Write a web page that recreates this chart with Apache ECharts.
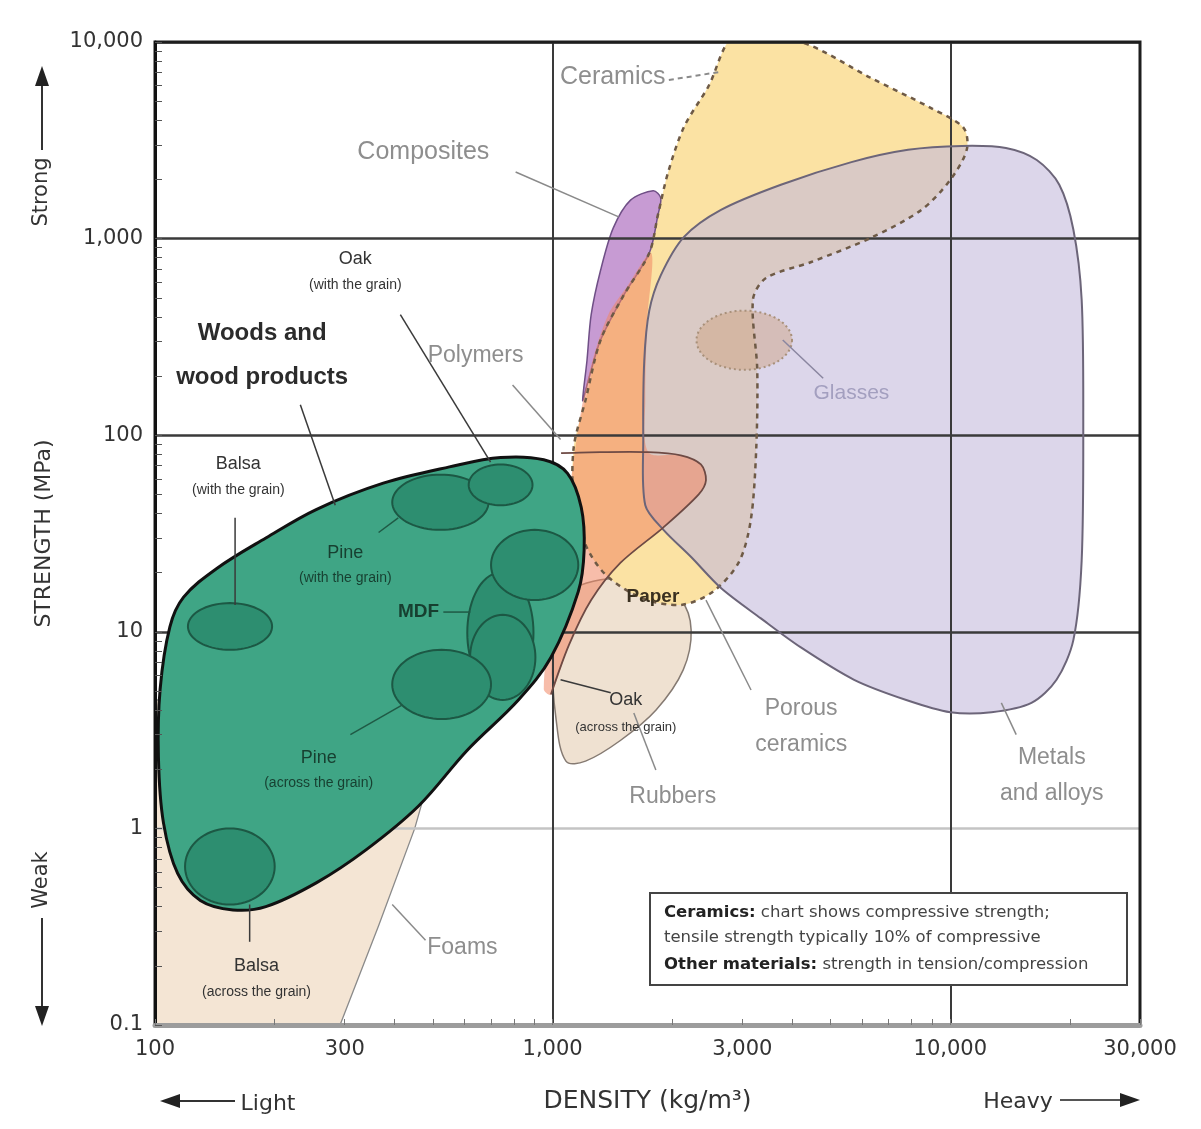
<!DOCTYPE html>
<html>
<head>
<meta charset="utf-8">
<script src="https://cdn.jsdelivr.net/npm/echarts@6/dist/echarts.min.js"></script>
<style>
html,body{margin:0;padding:0;background:#ffffff;}
#chart{width:1201px;height:1129px;}
</style>
</head>
<body>
<div id="chart"></div>
<script>
// ---------------- DATA (density kg/m3, strength MPa) ----------------
const xTickValues = [100, 300, 1000, 3000, 10000, 30000];
const yTickValues = [0.1, 1, 10, 100, 1000, 10000];

const foamsOutline = [[100,4.5],[100,0.1],[292,0.1],[365,0.32],[450,1.0],[520,2.8],[173,4.5]];
const rubbersOutline = [[1050,14.5],[1320,18.4],[1770,17.3],[2100,14.5],[2230,10.2],[2130,6.4],[1820,4.0],[1480,2.8],[1210,2.2],[1080,2.2],[1020,3.6],[1000,7.2]];
const ceramicsOutline = [[2890,11000],[4220,10000],[6320,6560],[8950,4610],[10800,3660],[11000,2830],[10000,1990],[8460,1400],[6320,1010],[4470,760],[3440,630],[3190,490],[3270,215],[3250,84],[3150,37],[2940,22.6],[2530,16],[2100,13.7],[1670,14.9],[1360,19.5],[1210,27.7],[1130,47],[1130,87],[1210,151],[1320,305],[1510,516],[1750,845],[1840,1320],[1950,2160],[2140,3700],[2460,5900]];
const metalsOutline = [[1710,44],[1690,95],[1700,240],[1750,430],[1870,650],[2140,1020],[2650,1400],[3750,1880],[5640,2450],[7830,2830],[10700,2960],[13800,2890],[16500,2510],[18800,1880],[20400,1110],[21400,490],[21600,120],[21400,23],[20400,9.1],[18500,5.7],[16000,4.35],[12700,3.9],[10000,3.9],[7750,4.5],[5730,5.7],[4220,8.3],[3340,11.7],[2650,16.7],[2230,24],[1900,33]];
const compositesOutline = [[1790,1750],[1570,1570],[1420,1130],[1320,690],[1250,410],[1220,240],[1190,150],[1230,190],[1320,305],[1510,516],[1750,845],[1840,1320],[1870,1610]];
const polymersOutline = [[1770,845],[1730,386],[1710,151],[1740,82],[2100,79],[2360,71],[2430,59],[2330,50],[1900,34],[1480,22.4],[1250,14.5],[1100,8.6],[990,4.8],[950,5.1],[990,11.5],[1060,29],[1120,66],[1180,134],[1260,240],[1380,410],[1530,560]];
const polymersEdge = [[1050,81],[1320,82],[1740,82],[2100,79],[2360,71],[2430,59],[2330,50],[1900,34],[1480,22.4],[1250,14.5],[1100,8.6],[990,4.8]];
const glassesDensityRange = [2300, 4000];
const glassesStrengthRange = [215, 430];
const woodsOutline = [[950,75],[1090,64],[1180,43],[1200,26],[1160,16],[990,7.4],[820,4.5],[610,2.5],[460,1.3],[340,0.78],[255,0.53],[190,0.40],[157,0.385],[130,0.43],[114,0.59],[105,1.07],[102,2.3],[103,5.1],[109,10.6],[118,15],[143,21],[190,30],[255,42],[375,57],[550,69],[740,77]];

const woodNames = ['MDF','Balsa (with the grain)','Balsa (across the grain)','Pine (with the grain)','Oak (with the grain)','Hardwood (with the grain)','Hardwood (across)','Pine (across the grain)'];
const woodDensityRanges = [[610,895],[121,197],[119,200],[395,690],[615,890],[700,1160],[620,905],[395,700]];
const woodStrengthRanges = [[4.9,20],[8.1,14],[0.41,1.0],[33,63],[44,71],[14.5,33],[4.5,12.2],[3.6,8.1]];

const labelTexts = ['Woods and\nwood products','Oak\n(with the grain)','Polymers','Composites','Ceramics','Glasses','Balsa\n(with the grain)','Pine\n(with the grain)','MDF','Pine\n(across the grain)','Balsa\n(across the grain)','Foams','Paper','Oak\n(across the grain)','Rubbers','Porous\nceramics','Metals\nand alloys'];
const labelAnchors = [[186,256],[319,700],[640,253],[473,2760],[1416,6640],[5640,164],[162,63.5],[301,22.4],[460,12.6],[258,2.03],[180,0.178],[593,0.247],[1787,15],[1528,4.0],[2005,1.45],[4217,3.28],[18000,1.85]];
const labelKinds = ['woods','note','gray','grayBig','grayBig','glass','note','green','greenBold','green','note','gray','bold','noteSmall','gray','gray','gray'];

const leaderLines = [
  [[232,143],[284,44]], [[414,410],[698,73]], [[793,180],[1047,95]], [[807,2180],[1466,1290]],
  [[1960,6410],[2620,7030]], [[3790,305],[4790,195]], [[159,38],[159,13.7]], [[365,32],[409,38]],
  [[531,12.6],[621,12.6]], [[310,3.0],[419,4.25]], [[173,0.41],[173,0.265]], [[479,0.27],[395,0.41]],
  [[1047,5.7],[1400,4.9]], [[1600,3.86],[1818,1.98]], [[2430,14.5],[3155,5.06]], [[13440,4.35],[14650,3.0]]
];
const leaderKinds = ['dark','dark','gray','gray','dash','glass','dark','green','green','green','dark','gray','dark','gray','gray','gray'];

// ---------------- STYLES ----------------
const L = Math.log10;
const FF = '"Liberation Sans", Arial, sans-serif';
const AF = '"DejaVu Sans", sans-serif';
const labelStyles = {
  woods: {t:{fontSize:24,fontWeight:'bold',fill:'#2b2b2b',fontFamily:FF,lineHeight:44}},
  note: {t:{fontSize:18,fill:'#333',fontFamily:FF,lineHeight:32}, s:{fontSize:14,fill:'#333',fontFamily:FF,lineHeight:20}},
  noteSmall: {t:{fontSize:18,fill:'#333',fontFamily:FF,lineHeight:34}, s:{fontSize:13,fill:'#333',fontFamily:FF,lineHeight:20}},
  green: {t:{fontSize:18,fill:'#173f30',fontFamily:FF,lineHeight:30}, s:{fontSize:14,fill:'#173f30',fontFamily:FF,lineHeight:20}},
  greenBold: {t:{fontSize:19,fontWeight:'bold',fill:'#173f30',fontFamily:FF}},
  bold: {t:{fontSize:19,fontWeight:'bold',fill:'#3a3020',fontFamily:FF}},
  gray: {t:{fontSize:23,fill:'#8e8e8e',fontFamily:FF,lineHeight:36}},
  grayBig: {t:{fontSize:25,fill:'#8e8e8e',fontFamily:FF}},
  glass: {t:{fontSize:21,fill:'#a39fbf',fontFamily:FF}}
};
const leaderStyles = {
  dark:{stroke:'#3a3a3a',lineWidth:1.5}, gray:{stroke:'#8a8a8a',lineWidth:1.5},
  dash:{stroke:'#8a8a8a',lineWidth:2,lineDash:[5,4]}, glass:{stroke:'#8a86a0',lineWidth:1.5},
  green:{stroke:'#1f5a45',lineWidth:1.5}
};

function fmtTick(v){ const n = Math.pow(10, v); if (n < 1) return String(Math.round(n*10)/10); return Math.round(n).toLocaleString('en-US'); }

function shape(pts, o) {
  return {
    type:'custom', coordinateSystem:'cartesian2d', clip:true, silent:true, z:o.z || 2,
    data:[[3,1]],
    renderItem: function(params, api){
      const points = pts.map(p => api.coord([L(p[0]), L(p[1])]));
      return { type: o.open ? 'polyline' : 'polygon',
        shape:{points:points, smooth:o.smooth || 0},
        style:{fill: o.open ? 'none' : (o.fill || 'none'), stroke:o.stroke || 'none', lineWidth:o.lineWidth || 0, lineDash:o.lineDash || null} };
    }
  };
}
function ellipses(dR, sR, o) {
  return {
    type:'custom', coordinateSystem:'cartesian2d', clip:true, silent:true, z:o.z || 2,
    data: dR.map((d,i) => [L(Math.sqrt(d[0]*d[1])), L(Math.sqrt(sR[i][0]*sR[i][1]))]),
    renderItem: function(params, api){
      const d = dR[params.dataIndex], s = sR[params.dataIndex];
      const a = api.coord([L(d[0]), L(s[0])]), b = api.coord([L(d[1]), L(s[1])]);
      const cx=(a[0]+b[0])/2, cy=(a[1]+b[1])/2, rx=Math.abs(b[0]-a[0])/2, ry=Math.abs(b[1]-a[1])/2;
      const pts=[]; for (let k=0;k<72;k++){ const t=k/72*2*Math.PI; pts.push([cx+rx*Math.cos(t), cy+ry*Math.sin(t)]); }
      return {type:'polygon', shape:{points:pts}, style:{fill:o.fill, stroke:o.stroke, lineWidth:o.lineWidth, lineDash:o.lineDash || null}};
    }
  };
}

const minorX = [], minorY = [];
for (let e=2;e<=4;e++) for (let m=1;m<=9;m++){ const v=m*Math.pow(10,e); if (v<=30000) minorX.push(L(v)); }
for (let e=-1;e<=3;e++) for (let m=1;m<=9;m++) minorY.push(L(m*Math.pow(10,e)));
minorY.push(4);

const series = [
  shape(foamsOutline, {fill:'#f4e5d4', stroke:'#8a8a8a', lineWidth:1.3, z:2}),
  shape(rubbersOutline, {fill:'#efe1d1', stroke:'#857a72', lineWidth:1.5, smooth:0.35, z:2}),
  shape(ceramicsOutline, {fill:'#fbe2a3', smooth:0.3, z:2}),
  shape(metalsOutline, {fill:'rgba(197,187,220,0.6)', smooth:0.3, z:2}),
  ellipses([glassesDensityRange], [glassesStrengthRange], {fill:'rgba(205,160,125,0.45)', stroke:'#a8907a', lineWidth:2, lineDash:[2,3], z:2}),
  shape(compositesOutline, {fill:'#c79bd3', stroke:'#6f4f86', lineWidth:1.5, smooth:0.3, z:2}),
  shape(polymersOutline, {fill:'rgba(240,135,100,0.55)', smooth:0.3, z:2}),
  shape(ceramicsOutline, {stroke:'#6e5a46', lineWidth:2.5, lineDash:[5,5], smooth:0.3, z:4}),
  shape(metalsOutline, {stroke:'#6c6579', lineWidth:2, smooth:0.3, z:4}),
  shape(polymersEdge, {open:true, stroke:'#6e4a44', lineWidth:1.8, smooth:0.3, z:4}),
  shape(woodsOutline, {fill:'#3fa585', stroke:'#111', lineWidth:3, smooth:0.35, z:5}),
  ellipses(woodDensityRanges, woodStrengthRanges, {fill:'#2d8e70', stroke:'#1c5844', lineWidth:2, z:5}),
  {
    type:'custom', coordinateSystem:'cartesian2d', clip:false, silent:true, z:6,
    data: leaderLines.map(l => [L(l[0][0]), L(l[0][1])]),
    renderItem: function(params, api){
      const l = leaderLines[params.dataIndex];
      const st = leaderStyles[leaderKinds[params.dataIndex]];
      return {type:'polyline', shape:{points:l.map(p => api.coord([L(p[0]), L(p[1])]))},
        style:{fill:'none', stroke:st.stroke, lineWidth:st.lineWidth, lineDash:st.lineDash || null}};
    }
  },
  {
    type:'custom', coordinateSystem:'cartesian2d', clip:false, silent:true, z:7,
    data: labelAnchors.map(p => [L(p[0]), L(p[1])]),
    renderItem: function(params, api){
      const i = params.dataIndex;
      const pos = api.coord([api.value(0), api.value(1)]);
      const st = labelStyles[labelKinds[i]];
      const lines = labelTexts[i].split('\n');
      const txt = lines.map((s, j) => (j > 0 && st.s ? '{s|' : '{t|') + s + '}').join('\n');
      return {type:'text', x:pos[0], y:pos[1],
        style:{text:txt, rich:st, align:'center', verticalAlign:'middle'}};
    }
  }
];

const option = {
  animation:false,
  backgroundColor:'#ffffff',
  grid:{left:155, right:61, top:42, bottom:104, show:true, borderColor:'#1e1e1e', borderWidth:3, backgroundColor:'transparent', z:8},
  xAxis:[
    {type:'value', min:L(100), max:L(30000), position:'bottom', z:8,
     name:'DENSITY (kg/m³)', nameLocation:'middle', nameGap:64,
     nameTextStyle:{fontSize:25, color:'#333', fontFamily:AF},
     axisLine:{show:true, onZero:false, lineStyle:{color:'#9c9c9c', width:5}},
     axisTick:{show:true, inside:true, length:6, customValues:minorX, lineStyle:{color:'#777', width:1}},
     axisLabel:{customValues:xTickValues.map(L), formatter:fmtTick, margin:14, color:'#333', fontSize:21, fontFamily:AF},
     splitLine:{show:false}},
    {type:'value', min:L(100), max:L(30000), interval:1, position:'bottom', z:3,
     axisLine:{show:false}, axisTick:{show:false}, axisLabel:{show:false},
     splitLine:{show:true, lineStyle:{color:'#3a3a3a', width:2}}}
  ],
  yAxis:[
    {type:'value', min:-1, max:4, position:'left', z:8,
     name:'STRENGTH (MPa)', nameLocation:'middle', nameGap:100, nameRotate:90,
     nameTextStyle:{fontSize:22, color:'#333', fontFamily:AF},
     axisLine:{show:true, onZero:false, lineStyle:{color:'#111', width:3}},
     axisTick:{show:true, inside:true, length:7, customValues:minorY, lineStyle:{color:'#555', width:1}},
     axisLabel:{customValues:yTickValues.map(L), formatter:fmtTick, margin:12, color:'#333', fontSize:21, fontFamily:AF},
     splitLine:{show:false}},
    {type:'value', min:-1, max:4, interval:1, position:'left', z:3,
     axisLine:{show:false}, axisTick:{show:false}, axisLabel:{show:false},
     splitLine:{show:true, lineStyle:{color:['#3a3a3a','#c4c4c4','#3a3a3a','#3a3a3a','#3a3a3a','#3a3a3a'], width:2.5}}}
  ],
  graphic:[
    {type:'text', x:42, y:192, rotation:Math.PI/2, z:10, style:{text:'Strong', fill:'#333', font:'21px ' + AF, align:'center', verticalAlign:'middle'}},
    {type:'polyline', z:10, shape:{points:[[42,150],[42,84]]}, style:{stroke:'#333', lineWidth:2, fill:'none'}},
    {type:'polygon', z:10, shape:{points:[[35,86],[49,86],[42,66]]}, style:{fill:'#222'}},
    {type:'text', x:42, y:880, rotation:Math.PI/2, z:10, style:{text:'Weak', fill:'#333', font:'21px ' + AF, align:'center', verticalAlign:'middle'}},
    {type:'polyline', z:10, shape:{points:[[42,918],[42,1008]]}, style:{stroke:'#333', lineWidth:2, fill:'none'}},
    {type:'polygon', z:10, shape:{points:[[35,1006],[49,1006],[42,1026]]}, style:{fill:'#222'}},
    {type:'text', x:268, y:1104, z:10, style:{text:'Light', fill:'#333', font:'22px ' + AF, align:'center', verticalAlign:'middle'}},
    {type:'polyline', z:10, shape:{points:[[235,1101],[178,1101]]}, style:{stroke:'#333', lineWidth:2, fill:'none'}},
    {type:'polygon', z:10, shape:{points:[[180,1094],[180,1108],[160,1101]]}, style:{fill:'#222'}},
    {type:'text', x:1018, y:1102, z:10, style:{text:'Heavy', fill:'#333', font:'22px ' + AF, align:'center', verticalAlign:'middle'}},
    {type:'polyline', z:10, shape:{points:[[1060,1100],[1122,1100]]}, style:{stroke:'#555', lineWidth:2, fill:'none'}},
    {type:'polygon', z:10, shape:{points:[[1120,1093],[1120,1107],[1140,1100]]}, style:{fill:'#222'}},
    {type:'rect', z:10, shape:{x:650, y:893, width:477, height:92}, style:{fill:'#fff', stroke:'#444', lineWidth:2}},
    {type:'text', x:664, y:913, z:11, style:{text:'{b|Ceramics:} chart shows compressive strength;', rich:{b:{fontWeight:'bold', fill:'#222', fontSize:16.5, fontFamily:AF}}, fill:'#444', font:'16.5px ' + AF, align:'left', verticalAlign:'middle'}},
    {type:'text', x:664, y:938, z:11, style:{text:'tensile strength typically 10% of compressive', fill:'#444', font:'16.5px ' + AF, align:'left', verticalAlign:'middle'}},
    {type:'text', x:664, y:965, z:11, style:{text:'{b|Other materials:} strength in tension/compression', rich:{b:{fontWeight:'bold', fill:'#222', fontSize:16.5, fontFamily:AF}}, fill:'#444', font:'16.5px ' + AF, align:'left', verticalAlign:'middle'}}
  ],
  series: series
};

const chart = echarts.init(document.getElementById('chart'));
chart.setOption(option);
</script>
</body>
</html>
